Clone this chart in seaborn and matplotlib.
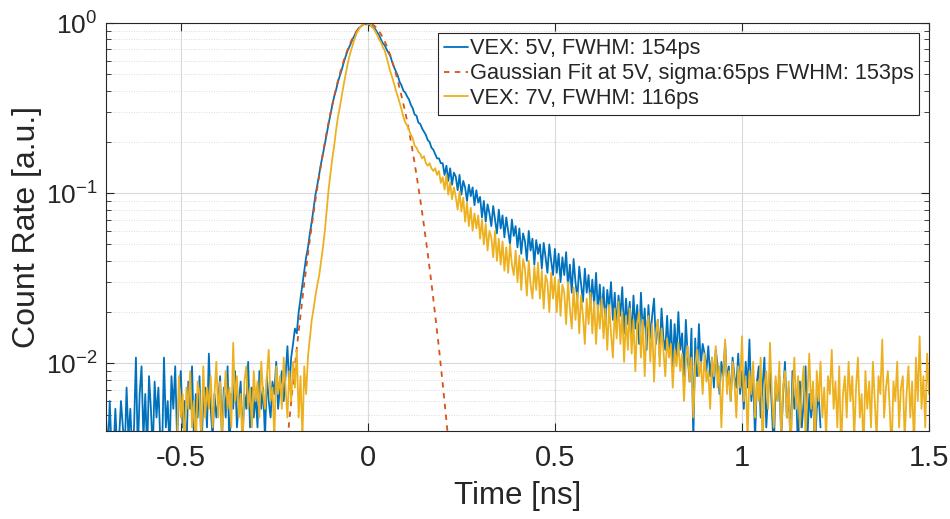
import numpy as np
import pandas as pd
import matplotlib
matplotlib.use("Agg")
import matplotlib.pyplot as plt
import seaborn as sns
from matplotlib.ticker import LogLocator, NullFormatter, FixedLocator

# ---------------- data ----------------
BIN_NS = 0.005

# VEX 5 V histogram, first bin at -0.700 ns
t0_5v = -0.700
rate_5v = [
    0.0048, 0.0030, 0.0060, 0.0030, 0.0030, 0.0054, 0.0030, 0.0036, 0.0060, 0.0042,
    0.0030, 0.0072, 0.0036, 0.0054, 0.0030, 0.0042, 0.0108, 0.0030, 0.0066, 0.0096,
    0.0036, 0.0066, 0.0030, 0.0084, 0.0054, 0.0030, 0.0078, 0.0048, 0.0072, 0.0036,
    0.0030, 0.0108, 0.0042, 0.0060, 0.0030, 0.0084, 0.0054, 0.0096, 0.0036, 0.0066,
    0.0090, 0.0042, 0.0060, 0.0030, 0.0078, 0.0054, 0.0096, 0.0036, 0.0066, 0.0048,
    0.0084, 0.0030, 0.0060, 0.0072, 0.0042, 0.0114, 0.0054, 0.0036, 0.0066, 0.0048,
    0.0060, 0.0084, 0.0036, 0.0072, 0.0048, 0.0096, 0.0030, 0.0066, 0.0054, 0.0090,
    0.0042, 0.0060, 0.0078, 0.0036, 0.0066, 0.0054, 0.0102, 0.0042, 0.0072, 0.0048,
    0.0066, 0.0042, 0.0090, 0.0054, 0.0072, 0.0036, 0.0084, 0.0060, 0.0048, 0.0078,
    0.0066, 0.0102, 0.0054, 0.0072, 0.0090, 0.0060, 0.0084, 0.0126, 0.0072, 0.0108,
    0.0130, 0.0160, 0.0150, 0.0200, 0.0240, 0.0290, 0.0350, 0.0420, 0.0480, 0.0580,
    0.0680, 0.0820, 0.0980, 0.1120, 0.1300, 0.1500, 0.1700, 0.1950, 0.2250, 0.2550,
    0.2900, 0.3300, 0.3700, 0.4050, 0.4500, 0.4900, 0.5300, 0.5800, 0.6300, 0.6800,
    0.7200, 0.7600, 0.8100, 0.8500, 0.8900, 0.9300, 0.9500, 0.9700, 0.9900, 0.9800,
    1.0000, 0.9700, 0.9600, 0.9400, 0.9200, 0.8800, 0.8500, 0.8000, 0.7600, 0.7400,
    0.7000, 0.6700, 0.6400, 0.5900, 0.5500, 0.5200, 0.4900, 0.4500, 0.4300, 0.4000,
    0.3900, 0.3700, 0.3550, 0.3300, 0.3150, 0.2900, 0.2850, 0.2600, 0.2550, 0.2400,
    0.2300, 0.2200, 0.2050, 0.2000, 0.1850, 0.1800, 0.1700, 0.1600, 0.1600, 0.1500,
    0.1500, 0.1280, 0.1450, 0.1180, 0.1400, 0.1120, 0.1320, 0.1250, 0.1040, 0.1280,
    0.0980, 0.1180, 0.1080, 0.0900, 0.1120, 0.0960, 0.1080, 0.0850, 0.1040, 0.0880,
    0.0950, 0.0720, 0.0900, 0.0680, 0.0860, 0.0760, 0.0640, 0.0840, 0.0700, 0.0580,
    0.0800, 0.0620, 0.0740, 0.0550, 0.0720, 0.0600, 0.0500, 0.0700, 0.0560, 0.0640,
    0.0480, 0.0620, 0.0440, 0.0580, 0.0520, 0.0400, 0.0600, 0.0460, 0.0540, 0.0380,
    0.0530, 0.0440, 0.0500, 0.0360, 0.0510, 0.0420, 0.0340, 0.0500, 0.0400, 0.0330,
    0.0470, 0.0340, 0.0440, 0.0300, 0.0420, 0.0330, 0.0450, 0.0280, 0.0380, 0.0260,
    0.0410, 0.0300, 0.0240, 0.0370, 0.0290, 0.0230, 0.0360, 0.0260, 0.0330, 0.0220,
    0.0310, 0.0220, 0.0340, 0.0200, 0.0290, 0.0190, 0.0280, 0.0170, 0.0270, 0.0210,
    0.0300, 0.0180, 0.0260, 0.0160, 0.0250, 0.0190, 0.0280, 0.0150, 0.0240, 0.0170,
    0.0230, 0.0140, 0.0250, 0.0160, 0.0220, 0.0130, 0.0260, 0.0150, 0.0210, 0.0120,
    0.0220, 0.0140, 0.0190, 0.0240, 0.0130, 0.0180, 0.0110, 0.0210, 0.0140, 0.0120,
    0.0190, 0.0110, 0.0180, 0.0096, 0.0170, 0.0110, 0.0200, 0.0120, 0.0150, 0.0084,
    0.0180, 0.0110, 0.0078, 0.0160, 0.0035, 0.0140, 0.0084, 0.0170, 0.0096, 0.0130,
    0.0114, 0.0090, 0.0126, 0.0084, 0.0108, 0.0072, 0.0120, 0.0096, 0.0066, 0.0102,
    0.0084, 0.0132, 0.0078, 0.0096, 0.0060, 0.0108, 0.0084, 0.0072, 0.0114, 0.0066,
    0.0090, 0.0054, 0.0102, 0.0072, 0.0138, 0.0060, 0.0084, 0.0036, 0.0078, 0.0096,
    0.0048, 0.0072, 0.0108, 0.0042, 0.0066, 0.0090, 0.0054, 0.0030, 0.0078, 0.0060,
    0.0084, 0.0036, 0.0066, 0.0102, 0.0048, 0.0072, 0.0030, 0.0090, 0.0054, 0.0066,
    0.0030, 0.0078, 0.0042, 0.0060, 0.0096, 0.0036, 0.0066, 0.0048, 0.0072, 0.0030,
    0.0054, 0.0066, 0.0042,
]

# VEX 7 V histogram, first bin at -0.510 ns
t0_7v = -0.510
rate_7v = [
    0.0036, 0.0084, 0.0048, 0.0066, 0.0030, 0.0072, 0.0054, 0.0090, 0.0042, 0.0060,
    0.0030, 0.0078, 0.0066, 0.0036, 0.0096, 0.0048, 0.0072, 0.0054, 0.0084, 0.0042,
    0.0066, 0.0102, 0.0048, 0.0078, 0.0036, 0.0060, 0.0090, 0.0054, 0.0072, 0.0042,
    0.0132, 0.0060, 0.0084, 0.0048, 0.0066, 0.0030, 0.0078, 0.0096, 0.0054, 0.0072,
    0.0042, 0.0090, 0.0060, 0.0078, 0.0048, 0.0102, 0.0066, 0.0054, 0.0084, 0.0120,
    0.0060, 0.0072, 0.0036, 0.0096, 0.0066, 0.0084, 0.0054, 0.0108, 0.0072, 0.0048,
    0.0090, 0.0060, 0.0102, 0.0072, 0.0120, 0.0048, 0.0084, 0.0036, 0.0096, 0.0066,
    0.0110, 0.0140, 0.0180, 0.0210, 0.0250, 0.0290, 0.0330, 0.0400, 0.0480, 0.0600,
    0.0800, 0.1050, 0.1300, 0.1600, 0.1900, 0.2350, 0.2800, 0.3200, 0.3700, 0.4300,
    0.4900, 0.5600, 0.6300, 0.6900, 0.7500, 0.8100, 0.8700, 0.9100, 0.9500, 0.9700,
    0.9900, 1.0000, 0.9800, 1.0000, 0.9500, 0.9300, 0.8900, 0.8500, 0.8000, 0.7700,
    0.7200, 0.6900, 0.6300, 0.5700, 0.5200, 0.4800, 0.4400, 0.4000, 0.3700, 0.3400,
    0.3100, 0.2800, 0.2600, 0.2500, 0.2350, 0.2200, 0.2100, 0.1900, 0.1850, 0.1750,
    0.1700, 0.1600, 0.1650, 0.1500, 0.1450, 0.1500, 0.1400, 0.1350, 0.1400, 0.1280,
    0.1350, 0.1150, 0.1240, 0.1050, 0.1280, 0.0980, 0.1160, 0.0920, 0.1080, 0.0950,
    0.0800, 0.1020, 0.0780, 0.0940, 0.0680, 0.0880, 0.0640, 0.0820, 0.0600, 0.0760,
    0.0620, 0.0740, 0.0540, 0.0700, 0.0500, 0.0660, 0.0460, 0.0600, 0.0550, 0.0420,
    0.0600, 0.0400, 0.0540, 0.0380, 0.0520, 0.0350, 0.0480, 0.0340, 0.0500, 0.0380,
    0.0330, 0.0460, 0.0300, 0.0430, 0.0270, 0.0410, 0.0360, 0.0250, 0.0400, 0.0290,
    0.0240, 0.0370, 0.0270, 0.0390, 0.0240, 0.0350, 0.0210, 0.0330, 0.0300, 0.0200,
    0.0340, 0.0240, 0.0320, 0.0200, 0.0310, 0.0190, 0.0290, 0.0260, 0.0170, 0.0300,
    0.0210, 0.0160, 0.0280, 0.0180, 0.0260, 0.0150, 0.0250, 0.0190, 0.0130, 0.0240,
    0.0170, 0.0260, 0.0150, 0.0230, 0.0130, 0.0220, 0.0160, 0.0240, 0.0140, 0.0210,
    0.0120, 0.0220, 0.0150, 0.0108, 0.0210, 0.0140, 0.0230, 0.0130, 0.0200, 0.0102,
    0.0190, 0.0120, 0.0210, 0.0114, 0.0180, 0.0090, 0.0170, 0.0200, 0.0108, 0.0180,
    0.0084, 0.0160, 0.0190, 0.0102, 0.0170, 0.0078, 0.0150, 0.0180, 0.0096, 0.0160,
    0.0120, 0.0084, 0.0140, 0.0108, 0.0130, 0.0072, 0.0120, 0.0096, 0.0132, 0.0090,
    0.0114, 0.0060, 0.0102, 0.0126, 0.0078, 0.0108, 0.0048, 0.0096, 0.0120, 0.0084,
    0.0102, 0.0066, 0.0114, 0.0078, 0.0090, 0.0054, 0.0108, 0.0084, 0.0126, 0.0072,
    0.0096, 0.0042, 0.0084, 0.0138, 0.0066, 0.0090, 0.0060, 0.0102, 0.0078, 0.0048,
    0.0096, 0.0072, 0.0144, 0.0060, 0.0084, 0.0036, 0.0090, 0.0066, 0.0102, 0.0048,
    0.0078, 0.0060, 0.0108, 0.0030, 0.0072, 0.0090, 0.0054, 0.0132, 0.0066, 0.0042,
    0.0084, 0.0060, 0.0102, 0.0036, 0.0072, 0.0090, 0.0048, 0.0078, 0.0030, 0.0066,
    0.0108, 0.0054, 0.0084, 0.0042, 0.0072, 0.0096, 0.0036, 0.0066, 0.0114, 0.0054,
    0.0078, 0.0030, 0.0090, 0.0060, 0.0102, 0.0048, 0.0072, 0.0036, 0.0084, 0.0066,
    0.0120, 0.0054, 0.0078, 0.0042, 0.0096, 0.0030, 0.0066, 0.0084, 0.0048, 0.0102,
    0.0060, 0.0084, 0.0036, 0.0072, 0.0108, 0.0048, 0.0066, 0.0030, 0.0090, 0.0054,
    0.0078, 0.0042, 0.0102, 0.0060, 0.0036, 0.0084, 0.0066, 0.0138, 0.0048, 0.0072,
    0.0090, 0.0054, 0.0030, 0.0078, 0.0060, 0.0102, 0.0042, 0.0072, 0.0084, 0.0036,
    0.0066, 0.0096, 0.0048, 0.0078, 0.0030, 0.0108, 0.0060, 0.0144, 0.0054, 0.0084,
    0.0042, 0.0114, 0.0066,
]

# Gaussian fit curve at 5 V, sampled every 0.01 ns
fit_time = [-0.22, -0.21, -0.20, -0.19, -0.18, -0.17, -0.16, -0.15, -0.14, -0.13,
            -0.12, -0.11, -0.10, -0.09, -0.08, -0.07, -0.06, -0.05, -0.04, -0.03,
            -0.02, -0.01, 0.00, 0.01, 0.02, 0.03, 0.04, 0.05, 0.06, 0.07, 0.08,
            0.09, 0.10, 0.11, 0.12, 0.13, 0.14, 0.15, 0.16, 0.17, 0.18, 0.19,
            0.20, 0.21, 0.22]
fit_rate = [0.0027, 0.0046, 0.0076, 0.0123, 0.0192, 0.0295, 0.0441, 0.0643, 0.0916,
            0.127, 0.173, 0.229, 0.295, 0.372, 0.458, 0.550, 0.645, 0.737, 0.823,
            0.896, 0.952, 0.988, 1.000, 0.988, 0.952, 0.896, 0.823, 0.737, 0.645,
            0.550, 0.458, 0.372, 0.300, 0.232, 0.175, 0.128, 0.0920, 0.0645, 0.0442,
            0.0296, 0.0192, 0.0123, 0.0076, 0.0046, 0.0027]

labels = ["VEX: 5V, FWHM: 154ps",
          "Gaussian Fit at 5V, sigma:65ps FWHM: 153ps",
          "VEX: 7V, FWHM: 116ps"]
x_ticks = [-0.5, 0, 0.5, 1, 1.5]
x_tick_labels = ["-0.5", "0", "0.5", "1", "1.5"]

# ---------------- build tables ----------------
df5 = pd.DataFrame({"t": t0_5v + BIN_NS * np.arange(len(rate_5v)), "r": rate_5v})
df7 = pd.DataFrame({"t": t0_7v + BIN_NS * np.arange(len(rate_7v)), "r": rate_7v})
dff = pd.DataFrame({"t": fit_time, "r": fit_rate})

# ---------------- style ----------------
sns.set_style("ticks")
plt.rcParams["font.family"] = ["Liberation Sans", "DejaVu Sans"]
plt.rcParams["mathtext.default"] = "regular"
plt.rcParams["axes.edgecolor"] = "#262626"
plt.rcParams["xtick.color"] = "#262626"
plt.rcParams["ytick.color"] = "#262626"

fig = plt.figure(figsize=(9.5, 5.19), dpi=100)
ax = fig.add_axes([106 / 950, 1 - 431 / 519, (929 - 106) / 950, (431 - 23) / 519])

c_blue, c_red, c_yel = "#0072BD", "#D95319", "#EDB120"

sns.lineplot(data=df5, x="t", y="r", ax=ax, color=c_blue, lw=1.3,
             estimator=None, sort=False, label=labels[0])
sns.lineplot(data=dff, x="t", y="r", ax=ax, color=c_red, lw=1.3,
             estimator=None, sort=False, label=labels[1], linestyle=(0, (3, 3)))
sns.lineplot(data=df7, x="t", y="r", ax=ax, color=c_yel, lw=1.3,
             estimator=None, sort=False, label=labels[2])

ax.set_yscale("log")
ax.set_xlim(-0.7, 1.5)
ax.set_ylim(0.004, 1.0)

ax.xaxis.set_major_locator(FixedLocator(x_ticks))
ax.set_xticklabels(x_tick_labels)
ax.yaxis.set_major_locator(LogLocator(base=10, numticks=10))
ax.yaxis.set_minor_locator(LogLocator(base=10, subs=np.arange(2, 10), numticks=20))
ax.yaxis.set_minor_formatter(NullFormatter())

ax.tick_params(axis="both", which="both", direction="in", top=True, right=True)
ax.tick_params(axis="both", which="major", length=6, width=0.8)
ax.tick_params(axis="y", which="major", labelsize=19, pad=6)
ax.tick_params(axis="x", which="major", labelsize=21, pad=9)
ax.tick_params(axis="y", which="minor", length=3.5, width=0.6)

ax.grid(True, which="major", color="#d9d9d9", lw=0.8, ls="-")
ax.grid(True, which="minor", axis="y", color="#d0d0d0", lw=0.6, ls=(0, (1, 2)))
ax.set_axisbelow(True)

for sp in ax.spines.values():
    sp.set_linewidth(0.8)
    sp.set_visible(True)

ax.set_xlabel("Time [ns]", fontsize=22.5)
ax.set_ylabel("Count Rate [a.u.]", fontsize=23)
ax.xaxis.set_label_coords(0.5, -0.122)
ax.yaxis.set_label_coords(-0.078, 0.5)

leg = ax.legend(loc="upper right", fontsize=15.7, frameon=True, fancybox=False,
                framealpha=1, edgecolor="#262626", handlelength=1.1,
                handletextpad=0.1, borderpad=0.25, labelspacing=0.18,
                borderaxespad=0.45)
leg.get_frame().set_linewidth(0.8)

fig.savefig("out.png", dpi=100)
